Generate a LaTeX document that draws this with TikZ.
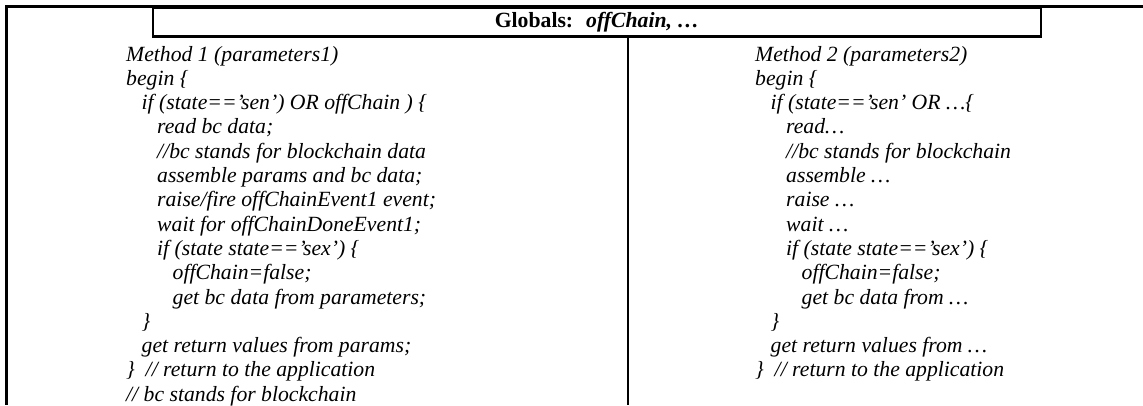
\documentclass[tikz,border=0pt]{standalone}
\usepackage{fontspec}
\setmainfont{Liberation Serif}
\tikzset{
  codetext/.style={anchor=base west, inner sep=0pt, font=\fontsize{21.7}{24.3}\selectfont\itshape},
  frameline/.style={line width=3pt, black},
  globbox/.style={draw, line width=2.5pt, minimum width=888pt, minimum height=29pt, inner sep=0pt, font=\fontsize{21.7}{24.3}\selectfont\bfseries},
  divider/.style={line width=2pt, black}
}
\newcommand\codeln[5]{\node[codetext] (#1) at ({#2+15.5*#3}, {61+24.3*#4}) {#5};}
\begin{document}
\begin{tikzpicture}[x=1pt,y=-1pt]
\useasboundingbox (0,0) rectangle (1143,405);
% outer frame
\coordinate (tl) at (6.5,6.5);
\coordinate (tr) at (1143,6.5);
\coordinate (bl) at (6.5,405);
\draw[frameline] (tr) -- (tl) -- (bl);
% globals box
\node[globbox] (glob) at (597,22) {Globals:\hspace{0.6em}\textit{offChain, …}};
% divider
\coordinate (dtop) at (628,36);
\coordinate (dbot) at (628,405);
\draw[divider] (dtop) -- (dbot);
% left column
\codeln{a0}{126}{0}{0}{Method 1 (parameters1)}
\codeln{a1}{126}{0}{1}{begin \{}
\codeln{a2}{126}{1}{2}{if (state==’sen’) OR offChain ) \{}
\codeln{a3}{126}{2}{3}{read bc data;}
\codeln{a4}{126}{2}{4}{//bc stands for blockchain data}
\codeln{a5}{126}{2}{5}{assemble params and bc data;}
\codeln{a6}{126}{2}{6}{raise/fire offChainEvent1 event;}
\codeln{a7}{126}{2}{7}{wait for offChainDoneEvent1;}
\codeln{a8}{126}{2}{8}{if (state state==’sex’) \{}
\codeln{a9}{126}{3}{9}{offChain=false;}
\codeln{a10}{126}{3}{10}{get bc data from parameters;}
\codeln{a11}{126}{1}{11}{\}}
\codeln{a12}{126}{1}{12}{get return values from params;}
\codeln{a13}{126}{0}{13}{\}\ \ // return to the application}
\codeln{a14}{126}{0}{14}{// bc stands for blockchain}
% right column
\codeln{b0}{755}{0}{0}{Method 2 (parameters2)}
\codeln{b1}{755}{0}{1}{begin \{}
\codeln{b2}{755}{1}{2}{if (state==’sen’ OR …\{}
\codeln{b3}{755}{2}{3}{read…}
\codeln{b4}{755}{2}{4}{//bc stands for blockchain}
\codeln{b5}{755}{2}{5}{assemble …}
\codeln{b6}{755}{2}{6}{raise …}
\codeln{b7}{755}{2}{7}{wait …}
\codeln{b8}{755}{2}{8}{if (state state==’sex’) \{}
\codeln{b9}{755}{3}{9}{offChain=false;}
\codeln{b10}{755}{3}{10}{get bc data from …}
\codeln{b11}{755}{1}{11}{\}}
\codeln{b12}{755}{1}{12}{get return values from …}
\codeln{b13}{755}{0}{13}{\}\ \ // return to the application}
\end{tikzpicture}
\end{document}
